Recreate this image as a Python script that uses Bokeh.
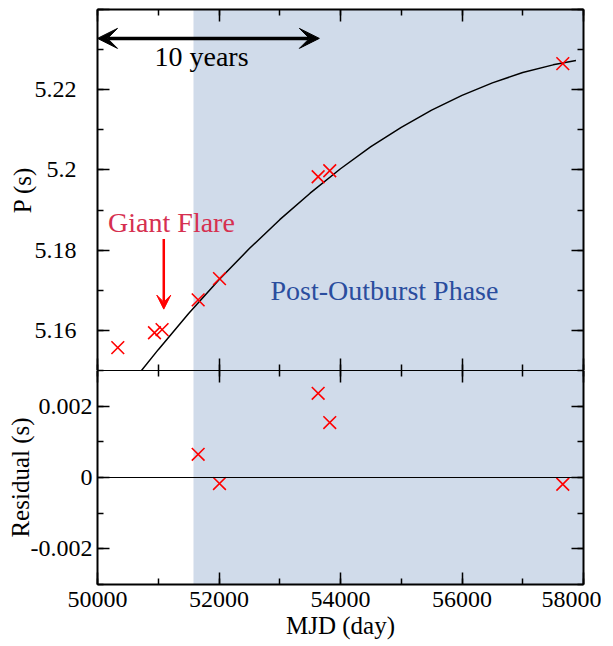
from bokeh.plotting import figure
from bokeh.layouts import column
from bokeh.models import (BoxAnnotation, Span, Arrow, VeeHead, Label,
                          SingleIntervalTicker, LinearAxis, CustomJSTickFormatter, Range1d)
from bokeh.embed import file_html
from bokeh.resources import INLINE

FONT = "Liberation Serif"

# ---- data ----
mjd_obs = [50334, 50938, 51063, 51657, 52008, 53632, 53823, 57659]
p_obs = [5.1557, 5.1594, 5.1602, 5.1676, 5.1729, 5.1983, 5.1998, 5.2265]

mjd_fit = [50724, 51000, 51500, 52000, 52500, 53000, 53500, 54000,
           54500, 55000, 55500, 56000, 56500, 57000, 57500, 57876]
p_fit = [5.1500, 5.1552, 5.1642, 5.1726, 5.1804, 5.1876, 5.1942, 5.2003,
         5.2058, 5.2106, 5.2149, 5.2186, 5.2217, 5.2243, 5.2262, 5.2273]

mjd_res = [51657, 52008, 53632, 53823, 57659]
res = [0.00065, -0.00017, 0.00236, 0.00154, -0.00019]

outburst_start = 51580
x_min, x_max = 50000, 58000
p_min, p_max = 5.15, 5.24
r_min, r_max = -0.003, 0.003
p_labelled_max = 5.22

SHADE = "#d0dbea"
TICK_FS = "24px"
AXLABEL_FS = "25px"
NOTE_FS = "28px"


def num_fmt(maxval=None):
    lim = "1e9" if maxval is None else repr(maxval + 1e-6)
    return CustomJSTickFormatter(
        code="if (tick > %s) { return ''; } return (Math.round(tick*1e6)/1e6).toString();" % lim)


blank_fmt = CustomJSTickFormatter(code="return '';")


def style_axis(ax, labels, line_width=2):
    ax.axis_line_color = "black"
    ax.axis_line_width = line_width
    ax.major_tick_in = 12
    ax.major_tick_out = 0
    ax.minor_tick_in = 6
    ax.minor_tick_out = 0
    ax.major_tick_line_color = "black"
    ax.minor_tick_line_color = "black"
    ax.major_tick_line_width = 1.5
    ax.minor_tick_line_width = 1.5
    ax.major_label_text_font = FONT
    ax.axis_label_text_font = FONT
    ax.axis_label_text_font_style = "normal"
    ax.axis_label_text_font_size = AXLABEL_FS
    ax.axis_label_text_color = "black"
    ax.major_label_text_color = "black"
    if labels:
        ax.major_label_text_font_size = TICK_FS
    else:
        ax.formatter = blank_fmt
        ax.major_label_text_font_size = "1px"
        ax.major_label_standoff = 0


def make_fig(frame_h, y0, y1, yint, top_border, bottom_border):
    p = figure(frame_width=486, frame_height=frame_h, output_backend="svg", toolbar_location=None,
               x_range=Range1d(x_min, x_max), y_range=Range1d(y0, y1),
               x_axis_location=None, y_axis_location=None,
               min_border_left=97, min_border_right=18,
               min_border_top=top_border, min_border_bottom=bottom_border)
    p.grid.visible = False
    p.outline_line_color = None
    p.background_fill_color = "white"
    p.border_fill_color = "white"
    axes = {}
    for side, interval in (("left", yint), ("right", yint), ("above", 2000), ("below", 2000)):
        ax = LinearAxis(ticker=SingleIntervalTicker(interval=interval, num_minor_ticks=2))
        p.add_layout(ax, side)
        axes[side] = ax
    p.add_layout(BoxAnnotation(left=outburst_start, fill_color=SHADE, fill_alpha=1.0,
                               line_color=None, level="underlay"))
    return p, axes


# ---------- top panel ----------
p1, a1 = make_fig(361, p_min, p_max, 0.02, 9, 0)
style_axis(a1["right"], labels=False)
style_axis(a1["above"], labels=False)
style_axis(a1["below"], labels=False, line_width=1.2)
style_axis(a1["left"], labels=True)
a1["left"].formatter = num_fmt(p_labelled_max)
a1["left"].major_label_standoff = 21
a1["left"].axis_label = "P (s)"
a1["left"].axis_label_standoff = -4

p1.line(mjd_fit, p_fit, line_color="black", line_width=1.5)
p1.scatter(mjd_obs, p_obs, marker="x", size=18, line_color="red", line_width=1.6)

p1.add_layout(Arrow(start=VeeHead(size=20, fill_color="black", line_color="black"),
                    end=VeeHead(size=20, fill_color="black", line_color="black"),
                    x_start=50000, y_start=5.2328, x_end=53652, y_end=5.2328,
                    line_color="black", line_width=3.5))
p1.add_layout(Label(x=51712, y=5.2283, text="10 years", text_align="center",
                    text_baseline="alphabetic", text_font=FONT, text_font_size=NOTE_FS,
                    text_color="black"))
p1.add_layout(Label(x=51218, y=5.1868, text="Giant Flare", text_align="center",
                    text_baseline="alphabetic", text_font=FONT, text_font_size=NOTE_FS,
                    text_color="#d63050"))
p1.add_layout(Arrow(end=VeeHead(size=14, fill_color="red", line_color="red"),
                    x_start=51091, y_start=5.1828, x_end=51091, y_end=5.1653,
                    line_color="red", line_width=2.5))
p1.add_layout(Label(x=54724, y=5.1700, text="Post-Outburst Phase", text_align="center",
                    text_baseline="alphabetic", text_font=FONT, text_font_size=NOTE_FS,
                    text_color="#2a4d9e"))

# ---------- bottom panel ----------
p2, a2 = make_fig(214, r_min, r_max, 0.002, 0, 0)
style_axis(a2["right"], labels=False)
style_axis(a2["above"], labels=False, line_width=1.2)
style_axis(a2["below"], labels=True)
a2["below"].major_label_standoff = 7
a2["below"].axis_label = "MJD (day)"
a2["below"].axis_label_standoff = 2
style_axis(a2["left"], labels=True)
a2["left"].formatter = num_fmt()
a2["left"].major_label_standoff = 5
a2["left"].axis_label = "Residual (s)"
a2["left"].axis_label_standoff = -6

p2.add_layout(Span(location=0, dimension="width", line_color="black", line_width=1.2))
p2.scatter(mjd_res, res, marker="x", size=18, line_color="red", line_width=1.6)

layout = column(p1, p2, spacing=0)
open("out.html", "w").write(file_html(layout, INLINE))
